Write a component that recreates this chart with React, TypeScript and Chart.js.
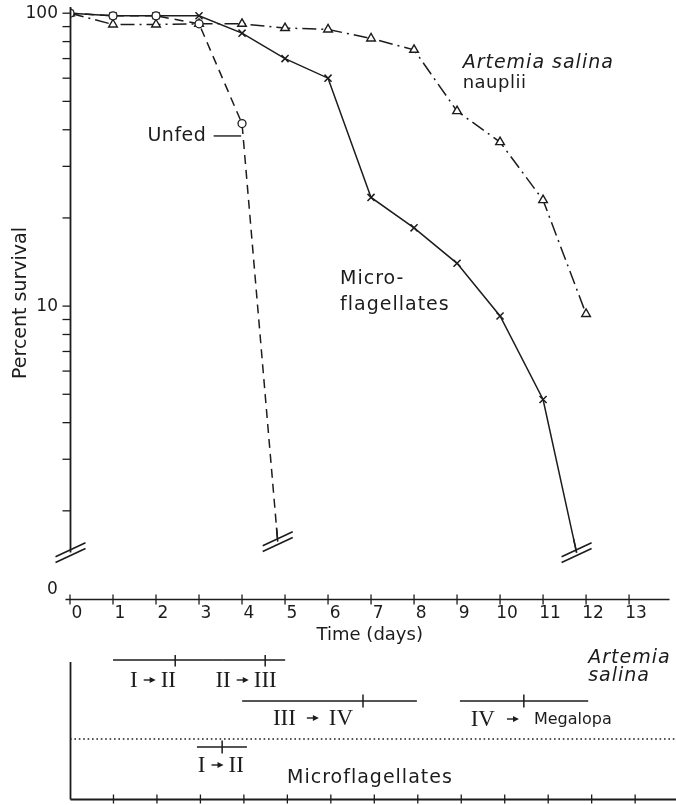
import React, { useEffect, useRef } from 'react';
import { Chart, registerables } from 'chart.js';

Chart.register(...registerables);

// ---------------- data ----------------
const unfedDays = [0, 1, 2, 3, 4, 4.83];
const unfedSurvival = [100, 98, 98, 92, 42, 1.57];

const microDays = [0, 1, 2, 3, 4, 5, 6, 7, 8, 9, 10, 11, 11.78];
const microSurvival = [100, 98, 98, 98, 85.5, 70, 60, 23.5, 18.5, 14, 9.25, 4.8, 1.44];

const artemiaDays = [0, 1, 2, 3, 4, 5, 6, 7, 8, 9, 10, 11, 12];
const artemiaSurvival = [100, 91.5, 91.5, 92, 92, 89, 88, 82, 75, 46.3, 36.3, 23, 9.4];

const dayTicks = [0, 1, 2, 3, 4, 5, 6, 7, 8, 9, 10, 11, 12, 13];
const yTickValues = [1, 2, 3, 4, 5, 6, 7, 8, 9, 10, 20, 30, 40, 50, 60, 70, 80, 90, 100];
const yTickLabels: Record<number, string> = { 100: '100', 10: '10' };
const yZeroLabel = '0';

// moult intervals (days): start, mean, end
const artemiaStageFrom = ['I', 'II', 'III', 'IV'];
const artemiaStageTo = ['II', 'III', 'IV', 'Megalopa'];
const artemiaStageStart = [0.99, 3.5, 3.96, 8.97];
const artemiaStageMean = [2.42, 4.49, 6.74, 10.44];
const artemiaStageEnd = [3.5, 4.95, 7.98, 11.92];

const microStageFrom = ['I'];
const microStageTo = ['II'];
const microStageStart = [2.92];
const microStageMean = [3.5];
const microStageEnd = [4.07];

// ---------------- layout / style ----------------
const INK = '#1c1c1c';
const SANS = '"DejaVu Sans", sans-serif';
const SERIF = '"Liberation Serif", serif';
const X_MAX = 13.94;
const Y_MIN = 1;
const Y_MAX = 105;
const AXIS_BREAK = 1.44;
const TOP_H = 648;
const BOT_H = 157;

// bottom panel levels (linear 0..144)
const ART_ROW = [139, 139, 98, 98];
const MICRO_ROW = [52];
const DOT_LEVEL = 60;
const ART_LABEL = [
  { day: 1.91, level: 119, gap: 6 },
  { day: 4.05, level: 119, gap: 6 },
  { day: 5.59, level: 81, gap: 11 },
  { day: 10.84, level: 80, gap: 12 },
];
const MICRO_LABEL = [{ day: 3.47, level: 34, gap: 6 }];

function line(ctx: CanvasRenderingContext2D, x1: number, y1: number, x2: number, y2: number) {
  ctx.beginPath();
  ctx.moveTo(x1, y1);
  ctx.lineTo(x2, y2);
  ctx.stroke();
}

function drawText(
  ctx: CanvasRenderingContext2D,
  str: string,
  x: number,
  y: number,
  font: string,
  align: CanvasTextAlign = 'left',
  spacing = 0
) {
  ctx.save();
  ctx.font = font;
  ctx.fillStyle = INK;
  ctx.textAlign = align;
  ctx.textBaseline = 'middle';
  (ctx as any).letterSpacing = spacing + 'px';
  ctx.fillText(str, x, y);
  ctx.restore();
}

function drawBreak(ctx: CanvasRenderingContext2D, cx: number, cy: number) {
  ctx.save();
  ctx.strokeStyle = INK;
  ctx.lineWidth = 1.6;
  for (const off of [-2.8, 2.8]) {
    line(ctx, cx - 15, cy + off + 7, cx + 15, cy + off - 7);
  }
  ctx.restore();
}

function drawStage(
  ctx: CanvasRenderingContext2D,
  from: string,
  to: string,
  cx: number,
  cy: number,
  gap: number
) {
  ctx.save();
  const serif = `23px ${SERIF}`;
  const toRoman = /^[IVX]+$/.test(to);
  const toFont = toRoman ? serif : `16px ${SANS}`;
  ctx.font = serif;
  const wFrom = ctx.measureText(from).width;
  ctx.font = toFont;
  const wTo = ctx.measureText(to).width;
  const arrowW = 12;
  const gap2 = toRoman ? gap - 1 : gap + 3;
  const total = wFrom + gap + arrowW + gap2 + wTo;
  let x = cx - total / 2;
  ctx.fillStyle = INK;
  ctx.strokeStyle = INK;
  ctx.textAlign = 'left';
  ctx.textBaseline = 'middle';
  ctx.font = serif;
  ctx.fillText(from, x, cy + 1);
  x += wFrom + gap;
  ctx.lineWidth = 1.4;
  line(ctx, x, cy, x + arrowW - 5, cy);
  ctx.beginPath();
  ctx.moveTo(x + arrowW, cy);
  ctx.lineTo(x + arrowW - 6, cy - 3);
  ctx.lineTo(x + arrowW - 6, cy + 3);
  ctx.closePath();
  ctx.fill();
  x += arrowW + gap2;
  ctx.font = toFont;
  ctx.fillText(to, x, cy + 1);
  ctx.restore();
}

const topDecor = {
  id: 'topDecor',
  afterDraw(chart: any) {
    const { ctx, chartArea, scales } = chart;
    const xs = scales.x;
    const ys = scales.y;
    ctx.save();
    ctx.strokeStyle = INK;
    ctx.lineWidth = 1.8;
    const ax = Math.round(xs.getPixelForValue(0)) + 0.5;
    const yBreak = ys.getPixelForValue(AXIS_BREAK);
    line(ctx, ax, chartArea.top, ax, yBreak);
    ctx.lineWidth = 1.3;
    yTickValues
      .filter((v) => v >= 2)
      .forEach((v) => {
        const y = ys.getPixelForValue(v);
        line(ctx, ax - 8, y, ax, y);
      });
    drawBreak(ctx, ax, yBreak);

    // x axis
    const by = Math.round(ys.getPixelForValue(Y_MIN)) + 0.5;
    ctx.lineWidth = 1.6;
    line(ctx, ax - 5, by, chartArea.right, by);
    ctx.lineWidth = 1.3;
    dayTicks.forEach((d) => {
      const x = xs.getPixelForValue(d);
      line(ctx, x, by - 5, x, by + 5);
    });
    drawText(ctx, yZeroLabel, ax - 18, by - 10, `17px ${SANS}`, 'center');

    // breaks at the end of the series that reach zero
    [0, 1].forEach((di) => {
      const meta = chart.getDatasetMeta(di);
      const pts = meta.data;
      const last = pts[pts.length - 1];
      const prev = pts[pts.length - 2];
      const dx = prev.x - last.x;
      const dy = prev.y - last.y;
      const len = Math.hypot(dx, dy);
      ctx.save();
      ctx.setLineDash([]);
      ctx.strokeStyle = INK;
      ctx.lineWidth = 1.5;
      line(ctx, last.x, last.y, last.x + (dx / len) * 14, last.y + (dy / len) * 14);
      ctx.restore();
      drawBreak(ctx, last.x, last.y);
    });

    // annotations
    const px = (d: number) => xs.getPixelForValue(d);
    const py = (v: number) => ys.getPixelForValue(v);
    drawText(ctx, 'Unfed', px(3.17), py(38.1), `19px ${SANS}`, 'right', 0.5);
    ctx.lineWidth = 1.4;
    line(ctx, px(3.34), py(38.1), px(3.98), py(38.1));
    drawText(ctx, 'Artemia salina', px(9.13), py(67.6), `italic 19px ${SANS}`, 'left', 1);
    drawText(ctx, 'nauplii', px(9.13), py(57.8), `18px ${SANS}`, 'left', 0.5);
    drawText(ctx, 'Micro-', px(6.28), py(12.37), `19px ${SANS}`, 'left', 1);
    drawText(ctx, 'flagellates', px(6.28), py(10.09), `19px ${SANS}`, 'left', 1);
    ctx.restore();
  },
};

const bottomDecor = {
  id: 'bottomDecor',
  afterDraw(chart: any) {
    const { ctx, chartArea, scales } = chart;
    const xs = scales.x;
    const ys = scales.y;
    const px = (d: number) => xs.getPixelForValue(d);
    const py = (v: number) => ys.getPixelForValue(v);
    ctx.save();
    ctx.strokeStyle = INK;
    const ax = Math.round(px(0)) + 0.5;
    const by = Math.round(py(0)) + 0.5;
    ctx.lineWidth = 1.8;
    line(ctx, ax, py(137), ax, by);
    line(ctx, ax, by, chartArea.right, by);
    ctx.lineWidth = 1.3;
    dayTicks
      .filter((d) => d > 0)
      .forEach((d) => {
        const x = px(d);
        line(ctx, x, by - 5, x, by + 4);
      });
    artemiaStageFrom.forEach((f, i) => {
      const L = ART_LABEL[i];
      drawStage(ctx, f, artemiaStageTo[i], px(L.day), py(L.level), L.gap);
    });
    microStageFrom.forEach((f, i) => {
      const L = MICRO_LABEL[i];
      drawStage(ctx, f, microStageTo[i], px(L.day), py(L.level), L.gap);
    });
    drawText(ctx, 'Artemia', px(11.92), py(141), `italic 19px ${SANS}`, 'left', 1);
    drawText(ctx, 'salina', px(11.92), py(123), `italic 19px ${SANS}`, 'left', 1);
    drawText(ctx, 'Microflagellates', px(6.9), py(21), `19px ${SANS}`, 'center', 1);
    ctx.restore();
  },
};

function pts(xs: number[], ys: number[]) {
  return xs.map((x, i) => ({ x, y: ys[i] }));
}

export default function App() {
  const topRef = useRef<HTMLCanvasElement>(null);
  const botRef = useRef<HTMLCanvasElement>(null);

  useEffect(() => {
    document.body.style.margin = '0';
    const lastZero = (arr: number[], r: number) => arr.map((_, i) => (i === arr.length - 1 ? 0 : r));

    const top = new Chart(topRef.current as HTMLCanvasElement, {
      type: 'line',
      data: {
        datasets: [
          {
            label: 'Unfed',
            data: pts(unfedDays, unfedSurvival),
            borderColor: INK,
            borderWidth: 1.5,
            borderDash: [9, 6],
            pointStyle: 'circle',
            pointRadius: lastZero(unfedDays, 4),
            pointBackgroundColor: '#fff',
            pointBorderColor: INK,
            pointBorderWidth: 1.3,
            tension: 0,
            fill: false,
          },
          {
            label: 'Microflagellates',
            data: pts(microDays, microSurvival),
            borderColor: INK,
            borderWidth: 1.5,
            pointStyle: 'crossRot',
            pointRadius: lastZero(microDays, 5),
            pointBorderColor: INK,
            pointBorderWidth: 1.5,
            tension: 0,
            fill: false,
          },
          {
            label: 'Artemia salina nauplii',
            data: pts(artemiaDays, artemiaSurvival),
            borderColor: INK,
            borderWidth: 1.5,
            borderDash: [14, 5, 2, 5],
            pointStyle: 'triangle',
            pointRadius: 5,
            pointBackgroundColor: '#fff',
            pointBorderColor: INK,
            pointBorderWidth: 1.4,
            tension: 0,
            fill: false,
          },
        ],
      },
      options: {
        responsive: false,
        animation: false,
        devicePixelRatio: 1,
        layout: { padding: { top: 7, left: 0, right: 0, bottom: 0 } },
        plugins: { legend: { display: false }, tooltip: { enabled: false } },
        scales: {
          x: {
            type: 'linear',
            min: 0,
            max: X_MAX,
            afterBuildTicks: (s: any) => {
              s.ticks = dayTicks.map((v) => ({ value: v }));
            },
            afterFit: (s: any) => {
              s.height = TOP_H - 599;
              s.paddingLeft = 0;
              s.paddingRight = 0;
            },
            grid: { display: false, drawTicks: false },
            border: { display: false },
            ticks: {
              autoSkip: false,
              maxRotation: 0,
              padding: 4,
              labelOffset: 7,
              color: INK,
              font: { family: SANS, size: 17 },
              callback: (v: any) => String(v),
            },
            title: {
              display: true,
              text: 'Time (days)',
              color: INK,
              font: { family: SANS, size: 18 },
              padding: { top: 0, bottom: 2 },
            },
          },
          y: {
            type: 'logarithmic',
            min: Y_MIN,
            max: Y_MAX,
            afterBuildTicks: (s: any) => {
              s.ticks = yTickValues.map((v) => ({ value: v }));
            },
            afterFit: (s: any) => {
              s.width = 70;
              s.paddingTop = 0;
              s.paddingBottom = 0;
            },
            grid: { display: false, drawTicks: false },
            border: { display: false },
            ticks: {
              autoSkip: false,
              padding: 12,
              color: INK,
              font: { family: SANS, size: 17 },
              callback: (v: any) => yTickLabels[v as number] ?? '',
            },
            title: {
              display: true,
              text: 'Percent survival',
              color: INK,
              font: { family: SANS, size: 19 },
              padding: { top: 10, bottom: 0 },
            },
          },
        },
      },
      plugins: [topDecor],
    } as any);

    const stageSets: any[] = [];
    artemiaStageFrom.forEach((_, i) => {
      stageSets.push({
        data: [
          { x: artemiaStageStart[i], y: ART_ROW[i] },
          { x: artemiaStageMean[i], y: ART_ROW[i] },
          { x: artemiaStageEnd[i], y: ART_ROW[i] },
        ],
        borderColor: INK,
        borderWidth: 1.6,
        pointStyle: 'line',
        pointRotation: 90,
        pointRadius: [0, 6.5, 0],
        pointBorderColor: INK,
        pointBorderWidth: 1.5,
        tension: 0,
      });
    });
    microStageFrom.forEach((_, i) => {
      stageSets.push({
        data: [
          { x: microStageStart[i], y: MICRO_ROW[i] },
          { x: microStageMean[i], y: MICRO_ROW[i] },
          { x: microStageEnd[i], y: MICRO_ROW[i] },
        ],
        borderColor: INK,
        borderWidth: 1.6,
        pointStyle: 'line',
        pointRotation: 90,
        pointRadius: [0, 6.5, 0],
        pointBorderColor: INK,
        pointBorderWidth: 1.5,
        tension: 0,
      });
    });
    stageSets.push({
      data: [
        { x: 0, y: DOT_LEVEL },
        { x: X_MAX, y: DOT_LEVEL },
      ],
      borderColor: INK,
      borderWidth: 1.6,
      borderDash: [1.6, 2.8],
      pointRadius: 0,
    });

    const bottom = new Chart(botRef.current as HTMLCanvasElement, {
      type: 'line',
      data: { datasets: stageSets },
      options: {
        responsive: false,
        animation: false,
        devicePixelRatio: 1,
        layout: { padding: { top: 7, left: 70, right: 0, bottom: 6 } },
        plugins: { legend: { display: false }, tooltip: { enabled: false } },
        scales: {
          x: { type: 'linear', min: 0, max: X_MAX, display: false },
          y: { type: 'linear', min: 0, max: 144, display: false },
        },
      },
      plugins: [bottomDecor],
    } as any);

    return () => {
      top.destroy();
      bottom.destroy();
    };
  }, []);

  return (
    <div style={{ position: 'absolute', left: 0, top: 0, width: 676, height: 805, background: '#fff' }}>
      <canvas
        ref={topRef}
        width={676}
        height={TOP_H}
        style={{ position: 'absolute', left: 0, top: 0, width: 676, height: TOP_H }}
      />
      <canvas
        ref={botRef}
        width={676}
        height={BOT_H}
        style={{ position: 'absolute', left: 0, top: TOP_H, width: 676, height: BOT_H }}
      />
    </div>
  );
}
